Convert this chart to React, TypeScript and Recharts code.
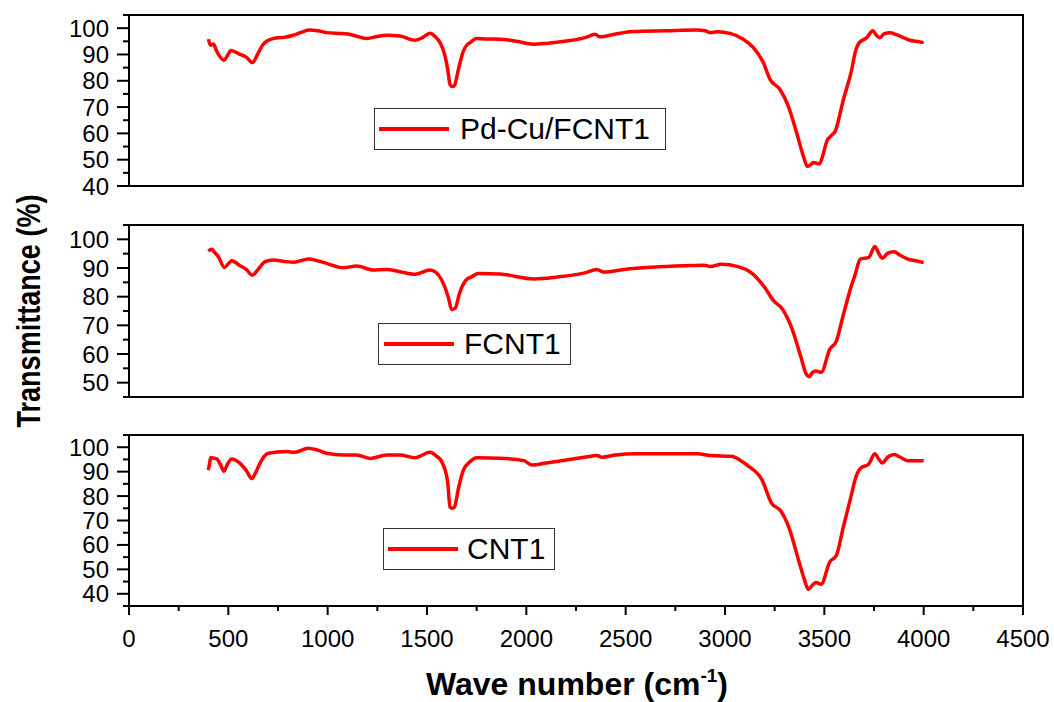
import React from 'react';
import { LineChart, Line, XAxis, YAxis, Legend, ReferenceArea } from 'recharts';

const FONT = '"Liberation Sans", Arial, Helvetica, sans-serif';

// ---------- data ----------
const seriesNames = ['Pd-Cu/FCNT1', 'FCNT1', 'CNT1'];

const pdcuWave = [400, 410, 425, 441, 478, 495, 513, 559, 590, 621, 650, 676, 727, 780, 827, 870, 908, 950, 995, 1062, 1100, 1129, 1197, 1250, 1297, 1364, 1440, 1480, 1515, 1545, 1566, 1591, 1605, 1616, 1627, 1638, 1658, 1683, 1700, 1717, 1750, 1800, 1868, 1950, 2035, 2100, 2203, 2300, 2346, 2371, 2450, 2539, 2700, 2858, 2900, 2925, 2960, 3025, 3092, 3143, 3193, 3227, 3277, 3319, 3361, 3395, 3415, 3430, 3445, 3475, 3490, 3512, 3540, 3554, 3596, 3638, 3655, 3676, 3714, 3744, 3760, 3780, 3800, 3831, 3860, 3881, 3931, 3960, 4000];
const pdcuT = [95.8, 93.5, 94.0, 91.3, 87.8, 89.5, 91.5, 90.0, 89.0, 86.9, 90.5, 93.9, 96.1, 96.5, 97.3, 98.5, 99.3, 99.0, 98.3, 98.0, 97.8, 97.3, 96.1, 96.8, 97.3, 97.0, 95.4, 96.5, 98.1, 96.5, 94.5, 89.4, 84.0, 78.6, 77.8, 78.2, 84.3, 91.3, 93.5, 94.5, 96.1, 95.9, 95.8, 95.0, 93.9, 94.2, 95.1, 96.5, 97.7, 96.7, 97.8, 98.7, 99.0, 99.3, 99.0, 98.3, 98.6, 98.0, 95.8, 92.6, 86.9, 80.5, 76.7, 70.3, 60.1, 51.2, 47.4, 48.0, 48.9, 48.4, 51.0, 56.9, 59.5, 60.7, 72.9, 84.3, 90.7, 94.5, 96.4, 99.0, 97.5, 96.4, 97.8, 98.3, 97.6, 97.0, 95.4, 95.0, 94.5];

const fcntWave = [399, 416, 430, 450, 480, 500, 517, 559, 590, 621, 650, 685, 726, 794, 830, 903, 950, 995, 1079, 1146, 1230, 1297, 1364, 1440, 1515, 1545, 1574, 1607, 1624, 1641, 1666, 1699, 1724, 1758, 1868, 2039, 2150, 2295, 2355, 2389, 2500, 2637, 2800, 2894, 2928, 2980, 3065, 3133, 3202, 3244, 3287, 3338, 3381, 3407, 3424, 3440, 3458, 3484, 3527, 3561, 3595, 3638, 3655, 3681, 3724, 3754, 3775, 3792, 3820, 3852, 3880, 3920, 3960, 4000];
const fcntT = [95.9, 96.5, 95.5, 93.9, 90.2, 91.5, 92.5, 90.8, 89.5, 87.5, 89.5, 92.2, 92.8, 92.2, 92.0, 93.1, 92.5, 91.6, 90.1, 90.7, 89.3, 89.5, 88.7, 87.8, 89.3, 88.5, 85.8, 79.9, 75.5, 75.9, 81.7, 86.0, 86.9, 88.1, 87.9, 86.2, 86.8, 88.3, 89.5, 88.6, 89.6, 90.3, 90.8, 91.0, 90.5, 91.3, 90.5, 88.3, 83.0, 78.6, 75.9, 68.7, 59.2, 53.3, 52.1, 53.5, 54.1, 53.6, 61.6, 64.6, 73.5, 84.2, 87.7, 93.1, 93.7, 97.5, 95.0, 93.4, 95.2, 95.7, 94.5, 93.1, 92.5, 91.9];

const cntWave = [399, 405, 411, 441, 460, 478, 495, 517, 559, 590, 618, 640, 659, 701, 794, 830, 903, 950, 995, 1079, 1146, 1213, 1297, 1364, 1440, 1515, 1545, 1574, 1604, 1616, 1627, 1638, 1658, 1683, 1717, 1750, 1868, 1987, 2030, 2100, 2176, 2300, 2355, 2381, 2450, 2552, 2860, 2928, 3031, 3080, 3116, 3185, 3236, 3279, 3322, 3373, 3399, 3419, 3440, 3458, 3484, 3527, 3561, 3595, 3638, 3655, 3681, 3724, 3754, 3775, 3792, 3820, 3852, 3880, 3920, 3960, 4000];
const cntT = [90.6, 93.0, 95.7, 95.2, 93.0, 90.2, 93.0, 95.2, 93.4, 90.5, 87.2, 90.0, 93.4, 97.5, 98.2, 97.9, 99.6, 98.8, 97.5, 96.8, 96.8, 95.4, 96.8, 96.8, 95.7, 97.9, 96.5, 94.1, 85.8, 75.5, 75.0, 75.5, 83.0, 90.6, 94.1, 95.7, 95.5, 94.5, 92.7, 93.5, 94.5, 96.0, 96.6, 95.9, 96.8, 97.3, 97.3, 96.6, 96.3, 94.5, 92.4, 86.8, 76.9, 74.1, 67.1, 53.0, 46.0, 41.8, 43.5, 44.6, 43.9, 53.0, 55.8, 67.1, 81.1, 86.8, 91.3, 93.1, 97.3, 95.0, 93.5, 96.0, 97.0, 96.0, 94.5, 94.5, 94.5];

const xTicks = [0, 250, 500, 750, 1000, 1250, 1500, 1750, 2000, 2250, 2500, 2750, 3000, 3250, 3500, 3750, 4000, 4250, 4500];
const yTicksTop = [40, 45, 50, 55, 60, 65, 70, 75, 80, 85, 90, 95, 100, 105];
const yTicksMid = [45, 50, 55, 60, 65, 70, 75, 80, 85, 90, 95, 100, 105];
const yTicksBottom = [35, 40, 45, 50, 55, 60, 65, 70, 75, 80, 85, 90, 95, 100, 105];

const xTitle = 'Wave number (cm';
const xTitleSup = '-1';
const yTitle = 'Transmittance (%)';

const zip = (w: number[], t: number[]) => w.map((v, i) => ({ w: v, t: t[i] }));

// ---------- layout ----------
const panels = [
  {
    name: seriesNames[0], data: zip(pdcuWave, pdcuT), domain: [40, 105], ticks: yTicksTop,
    margin: { top: 15, right: 31, bottom: 516, left: 29 }, xHeight: 0, showX: false,
    legend: { left: 374, top: 108, w: 292, h: 42, lineL: 5, textL: 86 },
  },
  {
    name: seriesNames[1], data: zip(fcntWave, fcntT), domain: [45, 105], ticks: yTicksMid,
    margin: { top: 225, right: 31, bottom: 305, left: 29 }, xHeight: 0, showX: false,
    legend: { left: 378, top: 323, w: 193, h: 42, lineL: 6, textL: 86 },
  },
  {
    name: seriesNames[2], data: zip(cntWave, cntT), domain: [35, 105], ticks: yTicksBottom,
    margin: { top: 435, right: 31, bottom: 36, left: 29 }, xHeight: 60, showX: true,
    legend: { left: 383, top: 528, w: 172, h: 42, lineL: 5, textL: 84 },
  },
];

const YTick = (props: any) => {
  const { x, y, payload } = props;
  const v = payload.value;
  const major = v % 10 === 0;
  return (
    <g>
      <line x1={x - (major ? 12 : 6)} x2={x} y1={y} y2={y} stroke="#000" strokeWidth={2} />
      {major && (
        <text x={x - 20} y={y} dy="0.355em" textAnchor="end" fontSize={24} fontFamily={FONT} fill="#000">
          {v}
        </text>
      )}
    </g>
  );
};

const XTick = (props: any) => {
  const { x, y, payload } = props;
  const v = payload.value;
  const major = v % 500 === 0;
  return (
    <g>
      <line x1={x} x2={x} y1={y} y2={y + (major ? 9 : 5)} stroke="#000" strokeWidth={2} />
      {major && (
        <text x={x} y={y + 32} dy="0.355em" textAnchor="middle" fontSize={24} fontFamily={FONT} fill="#000">
          {v}
        </text>
      )}
    </g>
  );
};

const makeLegend = (box: any) => (props: any) => {
  const item = props.payload && props.payload[0];
  const label = item ? item.value : '';
  const color = item ? item.color : '#ff0000';
  return (
    <div
      style={{
        width: box.w, height: box.h, border: '1px solid #333', boxSizing: 'border-box',
        position: 'relative', background: '#fff',
      }}
    >
      <svg width={72} height={box.h - 2} style={{ position: 'absolute', left: box.lineL - 1, top: 0 }}>
        <line x1={0} x2={70} y1={(box.h - 2) / 2} y2={(box.h - 2) / 2} stroke={color} strokeWidth={4} />
      </svg>
      <span
        style={{
          position: 'absolute', left: box.textL - 1, top: '50%', transform: 'translateY(-50%)',
          fontSize: 30, fontFamily: FONT, lineHeight: 1, color: '#000', whiteSpace: 'nowrap',
        }}
      >
        {label}
      </span>
    </div>
  );
};

export default function App() {
  return (
    <div style={{ position: 'absolute', left: 0, top: 0, width: 1054, height: 702, background: '#fff', overflow: 'hidden' }}>
      {panels.map((p, i) => (
        <div key={i} style={{ position: 'absolute', left: 0, top: 0 }}>
          <LineChart width={1054} height={702} data={p.data} margin={p.margin}>
            <XAxis
              dataKey="w"
              type="number"
              domain={[0, 4500]}
              ticks={xTicks}
              interval={0}
              height={p.xHeight}
              tickSize={0}
              tickMargin={0}
              tickLine={false}
              tick={p.showX ? <XTick /> : false}
              axisLine={{ stroke: '#000', strokeWidth: 2 }}
              allowDataOverflow
            />
            <YAxis
              type="number"
              domain={p.domain}
              ticks={p.ticks}
              interval={0}
              width={100}
              tickSize={0}
              tickMargin={0}
              tickLine={false}
              tick={<YTick />}
              axisLine={{ stroke: '#000', strokeWidth: 2 }}
              allowDataOverflow
            />
            <ReferenceArea
              x1={0}
              x2={4500}
              y1={p.domain[0]}
              y2={p.domain[1]}
              fill="none"
              fillOpacity={0}
              stroke="#000"
              strokeWidth={2}
              ifOverflow="visible"
            />
            <Line
              type="monotone"
              dataKey="t"
              name={p.name}
              stroke="#ff0000"
              strokeWidth={3.5}
              dot={false}
              activeDot={false}
              isAnimationActive={false}
            />
            <Legend
              layout="horizontal"
              verticalAlign="middle"
              align="center"
              content={makeLegend(p.legend)}
              wrapperStyle={{ left: p.legend.left, top: p.legend.top, width: p.legend.w, height: p.legend.h }}
            />
          </LineChart>
        </div>
      ))}
      <svg width={1054} height={702} style={{ position: 'absolute', left: 0, top: 0, pointerEvents: 'none' }}>
        <text x={577} y={695} textAnchor="middle" fontSize={32} fontWeight="bold" fontFamily={FONT} fill="#000">
          {xTitle}
          <tspan fontSize={19} dy={-13}>{xTitleSup}</tspan>
          <tspan dy={13}>)</tspan>
        </text>
        <text
          x={40}
          y={311}
          transform="rotate(-90, 40, 311)"
          textAnchor="middle"
          fontSize={33}
          fontWeight="bold"
          fontFamily={FONT}
          fill="#000"
          textLength={233}
          lengthAdjust="spacingAndGlyphs"
        >
          {yTitle}
        </text>
      </svg>
    </div>
  );
}
